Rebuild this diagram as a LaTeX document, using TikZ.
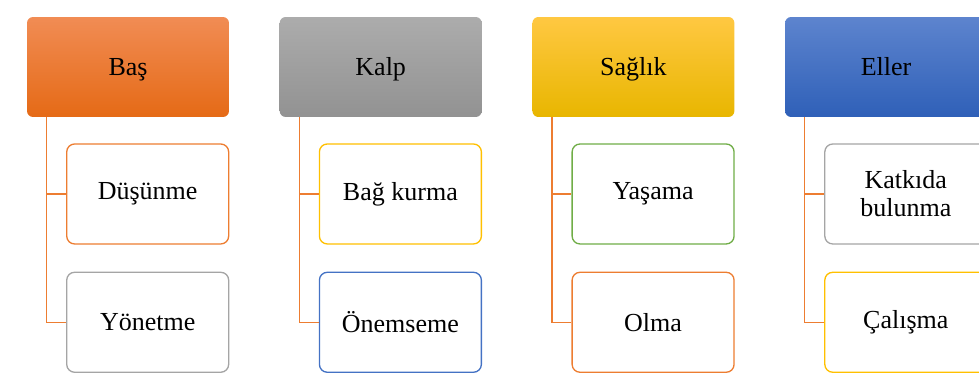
\documentclass[tikz,border=0pt]{standalone}
\usepackage{fontspec}
\setmainfont{Liberation Serif}
\usetikzlibrary{positioning}

\definecolor{orT}{RGB}{241,140,84}
\definecolor{orM}{RGB}{245,124,36}
\definecolor{orB}{RGB}{229,106,22}
\definecolor{gyT}{RGB}{172,172,172}
\definecolor{gyM}{RGB}{164,164,164}
\definecolor{gyB}{RGB}{146,146,146}
\definecolor{ylT}{RGB}{255,200,66}
\definecolor{ylM}{RGB}{255,192,0}
\definecolor{ylB}{RGB}{232,182,0}
\definecolor{blT}{RGB}{93,132,206}
\definecolor{blM}{RGB}{66,112,196}
\definecolor{blB}{RGB}{47,96,184}
\definecolor{orL}{RGB}{237,125,49}
\definecolor{grL}{RGB}{165,165,165}
\definecolor{ylL}{RGB}{255,192,0}
\definecolor{blL}{RGB}{68,114,196}
\definecolor{gnL}{RGB}{112,173,71}

\tikzset{
  head/.style={rounded corners=3.4pt, minimum width=4.04cm, minimum height=2cm,
    inner sep=0pt, text height=10.2pt, text depth=0pt,
    font=\fontsize{14.8}{16}\selectfont},
  leaf/.style={draw, fill=white, rounded corners=4.5pt, minimum width=3.24cm,
    minimum height=2cm, inner sep=0pt, line width=0.75pt, align=center,
    font=\fontsize{14.8}{16}\selectfont},
  conn/.style={draw=orL, line width=0.75pt}
}

\begin{document}
\begin{tikzpicture}[x=0.02cm,y=-0.02cm]
  \useasboundingbox (0,0) rectangle (979,374);
  \clip (0,0) rectangle (979,374);
  \foreach \i/\hd/\ta/\tb/\tc/\ca/\cb/\la/\lb in {
      0/Baş/orT/orM/orB/orL/grL/Düşünme/Yönetme,
      1/Kalp/gyT/gyM/gyB/ylL/blL/Bağ kurma/Önemseme,
      2/Sağlık/ylT/ylM/ylB/gnL/orL/Yaşama/Olma,
      3/Eller/blT/blM/blB/grL/ylL/{Katkıda\\bulunma}/Çalışma}{
    \node[head, top color=\ta, middle color=\tb, bottom color=\tc] (h\i)
      at (128+252.7*\i,67) {\hd};
    \node[leaf, draw=\ca, below left=0.52cm and 0cm of h\i.south east] (a\i) {\la};
    \node[leaf, draw=\cb, below=0.54cm of a\i] (b\i) {\lb};
    \coordinate (k\i) at ([xshift=0.4cm]h\i.south west);
    \draw[conn] (k\i) |- (b\i.west);
    \draw[conn] (k\i) |- (a\i.west);
  }
\end{tikzpicture}
\end{document}
